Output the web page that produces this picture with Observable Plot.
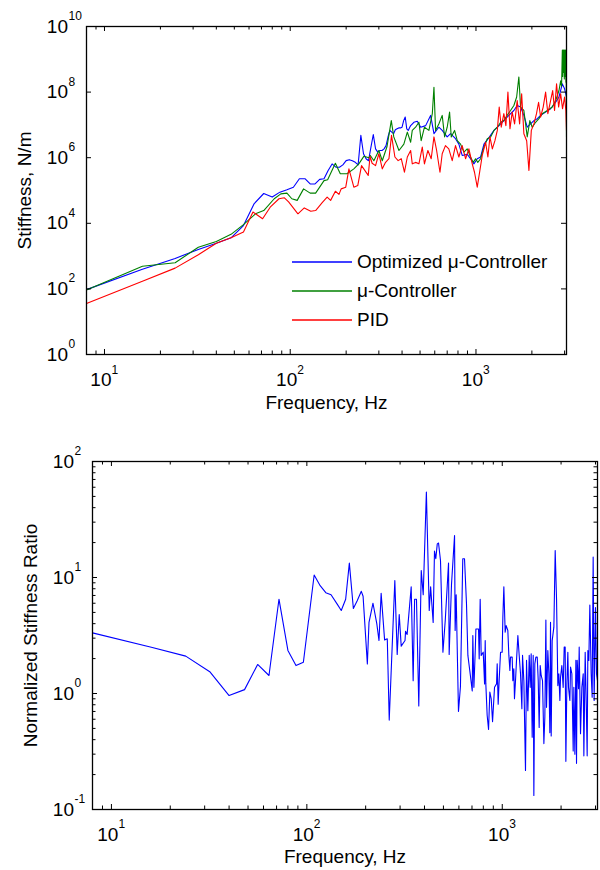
<!DOCTYPE html>
<html>
<head>
<meta charset="utf-8">
<script src="https://cdn.jsdelivr.net/npm/d3@7"></script>
<script src="https://cdn.jsdelivr.net/npm/@observablehq/plot@0.6"></script>
<style>
html, body { margin: 0; padding: 0; background: #fff; }
#page { position: relative; width: 600px; height: 870px; font-family: "Liberation Sans", Arial, sans-serif; overflow: hidden; }
#top { position: absolute; left: 0; top: 0; }
#bottom { position: absolute; left: 0; top: 430px; }
#legend { position: absolute; left: 292px; top: 247px; font-size: 19px; color: #000; }
.row { display: flex; align-items: center; height: 29px; white-space: nowrap; }
.sw { width: 60px; height: 6px; margin-right: 5px; flex: none; display: block; }
</style>
</head>
<body>
<div id="page"><div id="top"></div><div id="bottom"></div><div id="legend"></div></div>
<script>
// ---------- Top chart: stiffness (N/m) vs frequency (Hz) ----------
const optFreq = [8,16,24,32,40,48,56,64,72,80,88,96,104,112,120,128,136,144,152,160,168,176,184,192,200,208,216,224,232,240,248,256,264,272,280,288,296,304,312,320,328,336,344,352,360,368,376,384,392,400,408,416,424,432,440,
  445,463,483,504,536,570,594,631,658,700,730,776,809,843,898,935,975,1016,1059,1104,1175,1250,1330,1413,1503,1600,1667,1738,1811,1888,1968,2051,2138,2228,2371,2523,2685,2799,2917,2999,3072];
const optStiffness = [95,400,850,1600,2450,3600,8500,4.0e4,8.1e4,6.3e4,8.9e4,1.05e5,1.26e5,2.29e5,2.29e5,1.58e5,1.58e5,2.19e5,2.29e5,4.07e5,6.46e5,5.13e5,5.13e5,6.03e5,8.13e5,8.71e5,8.13e5,7.24e5,6.03e5,4.79e6,1.32e6,9.3e5,8.1e5,2.1e6,5.1e6,1.86e6,1.48e6,1.66e6,1.66e6,1.86e6,2.34e6,4.27e6,6.8e6,6.0e6,5.4e6,7.1e6,7.6e6,8.1e6,8.1e6,8.5e6,1.35e7,1.74e7,7.6e6,6.8e6,8.5e6,
  9.5e6,1.2e7,1.29e7,8.5e6,9.5e6,1.95e7,5.4e6,8.5e6,6.8e6,4.3e6,5.4e6,3.8e6,2.6e6,1.17e6,1.26e6,9.3e5,6.5e5,9.3e5,1.05e6,2.6e6,4.1e6,6.8e6,9.5e6,1.35e7,1.95e7,2.75e7,3.9e7,3.5e7,1.95e7,8.5e6,1.07e7,1.35e7,1.55e7,1.95e7,2.45e7,3.1e7,4.9e7,7.1e7,1.78e8,1.26e8,7.1e7];

const muFreq = [8,16,24,32,40,48,56,65,72,82,89,96,102,109,118,128,137,152,159,175,186,202,220,234,249,265,270,282,300,313,332,350,361,385,409,427,445,
  454,473,493,507,528,558,582,594,606,631,658,678,700,721,736,767,793,826,861,897,935,966,995,1023,1059,1104,1151,1199,1250,1303,1358,1413,1472,1535,1600,1656,1702,1738,1811,1888,1950,2009,2094,2183,2275,2421,2576,2685,2799,2858,
  2890,2917,2930,2945,2960,2975,2990,3005,3020,3035,3050,3060,3072];
const muStiffness = [93,490,630,1860,2800,4600,9100,1.95e4,2.45e4,5.6e4,7.9e4,8.3e4,5.6e4,5.0e4,1.12e5,8.3e4,8.3e4,2.0e5,2.14e5,6.76e5,3.24e5,3.24e5,4.57e5,6.46e5,1.1e6,1.0e6,1.17e6,8.1e5,1.66e6,8.1e5,2.2e6,1.35e7,4.3e6,1.66e6,2.6e6,6.0e6,2.95e6,
  6.8e6,8.5e6,1.2e7,3.3e6,8.5e6,6.8e6,2.2e7,1.4e8,6.8e6,1.07e7,1.95e7,4.3e6,8.5e6,2.45e7,4.3e6,6.8e6,3.3e6,2.6e6,1.48e6,1.86e6,1.05e6,7.2e5,9.3e5,7.2e5,9.3e5,2.1e6,3.8e6,4.3e6,6.8e6,8.5e6,1.2e7,1.35e7,1.95e7,2.75e7,3.9e7,7.1e7,2.9e8,3.5e7,2.75e7,4.3e6,1.35e7,8.5e6,1.2e7,1.55e7,2.2e7,2.75e7,3.5e7,5.5e7,1.12e8,2.2e8,
  1.5e8,1.9e9,3.0e8,1.9e9,4.0e8,1.9e9,2.5e8,1.9e9,3.0e8,1.9e9,2.0e8,1.9e9,4.3e6];

const pidFreq = [8,16,24,32,40,48,56,63,71,78,87,93,98,110,119,129,137,149,158,165,175,183,188,199,207,220,231,242,263,269,276,288,300,313,326,340,351,366,381,396,412,427,445,
  454,473,493,514,528,551,574,594,614,640,658,685,714,745,776,809,843,879,916,955,982,1016,1050,1081,1127,1159,1189,1225,1265,1303,1334,1368,1413,1449,1486,1524,1567,1614,1667,1718,1762,1811,1875,1928,1986,2051,2118,2173,2228,2301,2371,2438,2523,2588,2649,2716,2786,2858,2924,2999,3048,3072];
const pidStiffness = [36,170,430,1100,2450,3600,5400,2.2e4,1.38e4,3.1e4,5.6e4,6.0e4,4.5e4,1.95e4,2.95e4,2.34e4,2.45e4,4.37e4,6.3e4,5.0e4,9.5e4,7.6e4,1.12e5,1.26e5,4.57e5,1.26e5,1.41e5,5.75e5,2.88e5,1.1e6,6.76e5,5.75e5,1.32e6,4.57e5,7.24e5,9.33e5,4.8e6,1.05e6,8.13e5,9.33e5,3.63e5,1.05e6,1.66e6,
  6.5e5,7.2e5,6.5e5,2.1e6,6.5e5,1.66e6,9.3e5,4.3e6,1.66e6,3.6e5,1.32e6,2.34e6,1.86e6,8.1e5,2.34e6,1.05e6,2.34e6,9.3e5,1.86e6,6.5e5,3.6e5,1.26e5,4.1e5,1.17e6,2.95e6,1.05e6,4.3e6,1.86e6,3.3e6,6.8e6,3.5e7,8.5e6,2.2e7,9.5e6,1.0e8,7.6e6,2.45e7,1.07e7,5.5e7,1.07e7,8.9e7,5.4e6,3.3e6,4.1e5,6.8e6,1.07e7,2.2e7,4.9e7,1.74e7,3.5e7,1.0e8,2.2e7,5.5e7,1.12e8,2.75e7,1.78e8,3.5e7,8.9e7,3.1e7,7.1e7,2.75e7,6.8e6];

// ---------- Bottom chart: normalized stiffness ratio ----------
const ratioFreq = [8,16,24,32,40,48,56,64,72,80,88,96,109,117,125,133,143,150,158,165,173,181,190,194,204,208,218,228,234,240,250,258,264,282,290,297,304,318,320,326,342,350,356,364,374,385,394,409,423,430,443,450,457,465,472,483,497,511,531,535,550,570,574,581,597,611,628,641,656,667,682,702,707,716,727,733,756,762,771,780,799,812,818,824,837,851,864,878,892,913,935,942,953,965,980,999,1007,1019,1035,1047,1068,1081,1094,1102,1124,1133,1146,1155,1169,1183,1202,1216,1240,1260,1270,1290,1315,1331,1352,1374,1390,1406,1423,1440,1451,1468,1486,1510,1528,1545,1564,1582,1607,1633,1652,1672,1685,1711,1732,1752,1766,1780,1801,1837,1866,1896,1925,1948,1972,1987,2018,2050,2075,2099,2116,2141,2166,2183,2218,2236,2271,2307,2325,2353,2381,2399,2418,2457,2476,2515,2555,2596,2616,2657,2689,2720,2742,2774,2807,2851,2885,2919,2953,3000,3036,3072];
const ratioValue = [3.33,2.5,2.1,1.53,0.96,1.08,1.78,1.43,6.5,2.35,1.74,1.86,10.5,8.5,7.4,7.1,5.9,5.2,6.5,13.3,5.4,6.3,7.6,6.9,1.8,4.1,6.0,4.0,2.86,7.3,2.9,2.96,0.59,9.4,2.17,4.8,2.56,2.86,3.44,3.23,8.3,1.29,6.5,6.5,0.78,11.5,7.1,54.5,5.2,8.3,4.1,16.9,14.5,19.5,19.8,14.0,2.27,4.3,13.3,2.17,8.8,23.0,3.5,7.1,0.70,1.15,14.5,14.5,6.0,2.13,1.58,1.05,3.16,1.13,2.27,3.6,3.6,1.99,6.5,2.13,2.27,1.21,2.86,1.21,0.65,0.49,1.03,0.90,0.57,1.13,1.21,1.80,0.81,1.34,2.27,2.27,4.5,8.3,3.38,3.85,3.49,2.13,1.58,2.06,2.06,1.29,1.63,0.90,1.29,1.93,3.16,2.35,1.48,0.74,2.13,1.29,0.217,1.93,0.71,2.13,1.13,2.20,0.42,2.13,0.132,1.80,2.06,2.06,1.29,0.51,1.74,1.43,1.29,0.37,0.63,4.3,0.76,2.35,1.48,0.46,4.1,0.43,2.86,3.73,17.1,6.5,1.17,1.48,0.87,1.38,1.74,1.13,2.51,2.51,0.26,1.21,2.27,1.13,0.87,1.69,1.48,0.32,1.13,0.30,1.93,0.25,1.93,1.10,2.51,0.45,1.13,1.48,0.29,2.27,0.87,0.29,2.35,1.93,5.8,1.48,0.93,15.0,0.87,5.5,1.48,1.29];

// ---------- Axes / labels ----------
const xDomain = [8, 3072];
const xMajorTicks = [10, 100, 1000];
const xMajorExp = ["1", "2", "3"];
const xMinorTicks = [9, 20, 30, 40, 50, 60, 70, 80, 90, 200, 300, 400, 500, 600, 700, 800, 900, 2000, 3000];
const topYDomain = [1, 1e10];
const topYTicks = [1, 1e2, 1e4, 1e6, 1e8, 1e10];
const topYExp = ["0", "2", "4", "6", "8", "10"];
const botYDomain = [0.1, 100];
const botYTicks = [0.1, 1, 10, 100];
const botYExp = ["-1", "0", "1", "2"];
const botYMinor = [0.2,0.3,0.4,0.5,0.6,0.7,0.8,0.9,2,3,4,5,6,7,8,9,20,30,40,50,60,70,80,90];
const xTitle = "Frequency, Hz";
const topYTitle = "Stiffness, N/m";
const botYTitle = "Normalized Stiffness Ratio";
const legendLabels = ["Optimized \u03bc-Controller", "\u03bc-Controller", "PID"];
const seriesColors = ["#0000ff", "#008000", "#ff0000"];

const FONT = '"Liberation Sans", Arial, sans-serif';
const zip = (fs, vs) => fs.map((f, i) => ({f, v: vs[i]})).filter(d => d.v != null);

function axisMarks({fw, fh, yMajor, yExp, yMinor, xExpDy, yTitle, yTitleDx}) {
  const MJ = 5, MN = 3.5;
  const marks = [
    Plot.tickX(xMajorTicks, {x: d => d, insetTop: fh - MJ, stroke: "black"}),
    Plot.tickX(xMajorTicks, {x: d => d, insetBottom: fh - MJ, stroke: "black"}),
    Plot.tickX(xMinorTicks, {x: d => d, insetTop: fh - MN, stroke: "black"}),
    Plot.tickX(xMinorTicks, {x: d => d, insetBottom: fh - MN, stroke: "black"}),
    Plot.tickY(yMajor, {y: d => d, insetRight: fw - MJ, stroke: "black"}),
    Plot.tickY(yMajor, {y: d => d, insetLeft: fw - MJ, stroke: "black"}),
    Plot.text(xMajorTicks, {x: d => d, frameAnchor: "bottom", text: () => "10", textAnchor: "end", lineAnchor: "bottom", dx: 7, dy: 31, fontSize: 19}),
    Plot.text(xMajorTicks, {x: d => d, frameAnchor: "bottom", text: (d, i) => xMajorExp[i], textAnchor: "start", lineAnchor: "bottom", dx: 7, dy: xExpDy, fontSize: 12}),
    Plot.text(yMajor, {y: d => d, frameAnchor: "left", text: () => "10", textAnchor: "end", lineAnchor: "bottom", dx: -18.5, dy: 6, fontSize: 19}),
    Plot.text(yMajor, {y: d => d, frameAnchor: "left", text: (d, i) => yExp[i], textAnchor: "start", lineAnchor: "bottom", dx: -18, dy: -6.5, fontSize: 12}),
    Plot.text([xTitle], {frameAnchor: "bottom", text: d => d, textAnchor: "middle", lineAnchor: "bottom", dy: xExpDy + 35, fontSize: 19}),
    Plot.text([yTitle], {frameAnchor: "left", text: d => d, rotate: -90, textAnchor: "middle", lineAnchor: "bottom", dx: yTitleDx, fontSize: 19}),
    Plot.frame({stroke: "black", strokeWidth: 1.3})
  ];
  if (yMinor) {
    marks.push(Plot.tickY(yMinor, {y: d => d, insetRight: fw - MN, stroke: "black"}));
    marks.push(Plot.tickY(yMinor, {y: d => d, insetLeft: fw - MN, stroke: "black"}));
  }
  return marks;
}

const topPlot = Plot.plot({
  width: 600, height: 430,
  marginTop: 26, marginBottom: 76, marginLeft: 86, marginRight: 34,
  x: {type: "log", domain: xDomain, axis: null},
  y: {type: "log", domain: topYDomain, axis: null},
  style: {fontFamily: FONT, background: "white", color: "black", overflow: "visible"},
  marks: [
    Plot.line(zip(optFreq, optStiffness), {x: "f", y: "v", stroke: seriesColors[0], strokeWidth: 1.1, clip: true}),
    Plot.line(zip(muFreq, muStiffness), {x: "f", y: "v", stroke: seriesColors[1], strokeWidth: 1.1, clip: true}),
    Plot.line(zip(pidFreq, pidStiffness), {x: "f", y: "v", stroke: seriesColors[2], strokeWidth: 1.1, clip: true}),
    ...axisMarks({fw: 480, fh: 328, yMajor: topYTicks, yExp: topYExp, yMinor: null, xExpDy: 19, yTitle: topYTitle, yTitleDx: -56})
  ]
});
document.getElementById("top").appendChild(topPlot);

const botPlot = Plot.plot({
  width: 600, height: 440,
  marginTop: 31, marginBottom: 61, marginLeft: 92, marginRight: 3,
  x: {type: "log", domain: xDomain, axis: null},
  y: {type: "log", domain: botYDomain, axis: null},
  style: {fontFamily: FONT, background: "white", color: "black", overflow: "visible"},
  marks: [
    Plot.line(zip(ratioFreq, ratioValue), {x: "f", y: "v", stroke: seriesColors[0], strokeWidth: 1.1, clip: true}),
    ...axisMarks({fw: 505, fh: 348, yMajor: botYTicks, yExp: botYExp, yMinor: botYMinor, xExpDy: 18.5, yTitle: botYTitle, yTitleDx: -55.5})
  ]
});
document.getElementById("bottom").appendChild(botPlot);

// legend (line swatch + label per series)
const legend = d3.select("#legend");
legendLabels.forEach((lab, i) => {
  const row = legend.append("div").attr("class", "row");
  const sw = row.append("svg").attr("class", "sw").attr("width", 60).attr("height", 6);
  sw.append("line").attr("x1", 0).attr("x2", 60).attr("y1", 3).attr("y2", 3)
    .attr("stroke", seriesColors[i]).attr("stroke-width", 1.6);
  row.append("span").text(lab);
});
</script>
</body>
</html>
